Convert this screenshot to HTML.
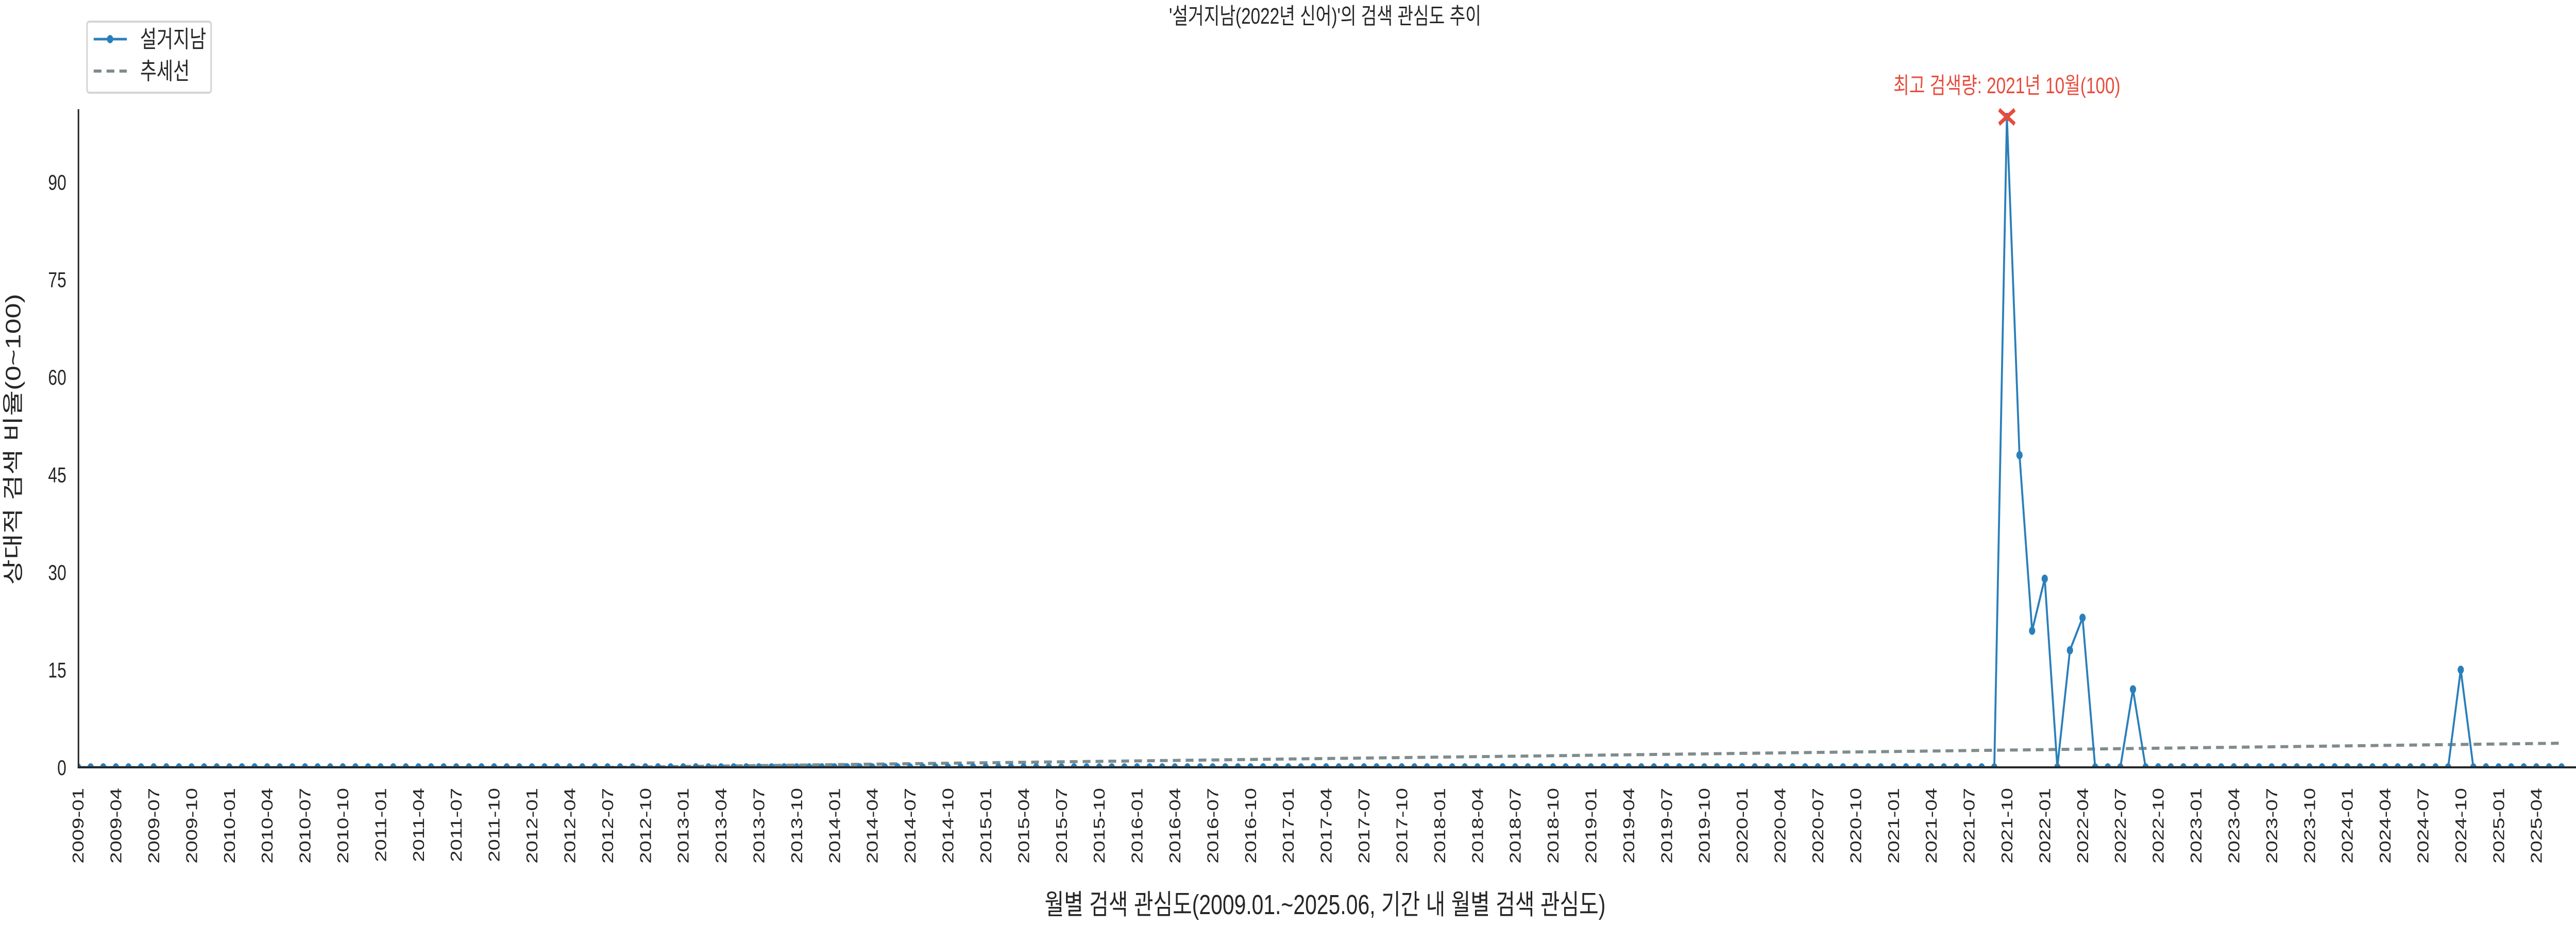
<!DOCTYPE html>
<html><head><meta charset="utf-8">
<style>
html,body{margin:0;padding:0;background:#fff;overflow:hidden;width:100%;height:100%;}
#chart{display:block;width:100vw;height:100vh;}
svg text{font-family:"Liberation Sans","Noto Sans CJK KR",sans-serif;fill:#262626;}
</style></head>
<body>
<svg id="chart" viewBox="0 0 6600 1800" preserveAspectRatio="none" xmlns="http://www.w3.org/2000/svg">
<defs><clipPath id="plotclip"><rect x="200" y="190" width="6400" height="1300"/></clipPath></defs>
<text x="3395" y="46" font-size="44" text-anchor="middle">'설거지남(2022년 신어)'의 검색 관심도 추이</text>
<g id="yticks"></g>
<g id="xticks"></g>
<g id="plot" clip-path="url(#plotclip)"></g>
<line x1="201" y1="212" x2="201" y2="1490" stroke="#262626" stroke-width="4"/>
<line x1="199" y1="1490" x2="6600" y2="1490" stroke="#262626" stroke-width="4"/>
<text transform="translate(52,853) rotate(-90)" font-size="54" text-anchor="middle">상대적 검색 비율(0~100)</text>
<text x="3395" y="1775" font-size="54" text-anchor="middle">월별 검색 관심도(2009.01.~2025.06, 기간 내 월별 검색 관심도)</text>
<g>
<rect x="223" y="42" width="318" height="138" rx="6" fill="#fff" stroke="#d5d5d5" stroke-width="4"/>
<g>
<line x1="240" y1="76" x2="325" y2="76" stroke="#2a7fba" stroke-width="5"/>
<circle cx="282" cy="76" r="8" fill="#2a7fba"/>
<text x="359" y="92" font-size="46">설거지남</text></g>
<g>
<line x1="240" y1="138" x2="325" y2="138" stroke="#7f8c8d" stroke-width="6" stroke-dasharray="20,13"/>
<text x="359" y="154" font-size="46">추세선</text></g>
</g>
<g id="annot"></g>
</svg>
<script>
// data: monthly values 2009-01 .. 2025-06 (198 months), nonzero months listed
const startYear = 2009;
const monthCount = 198;
const peakMonths = ["2021-10","2021-11","2021-12","2022-01","2022-03","2022-04","2022-08","2024-10"];
const peakValues = [100,48,21,29,18,23,12,15];
const yTicks = [0,15,30,45,60,75,90];

const NS="http://www.w3.org/2000/svg";
const X0=200, MW=32.3, Y0=1490, YS=12.63;
const xs=i=>X0+i*MW, ys=v=>Y0-v*YS;
function mk(t,a,p){const e=document.createElementNS(NS,t);for(const k in a)e.setAttribute(k,a[k]);p.appendChild(e);return e;}
const labels=[], vals=[];
for(let i=0;i<monthCount;i++){const y=startYear+Math.floor(i/12),m=i%12+1;labels.push(y+"-"+String(m).padStart(2,"0"));vals.push(0);}
peakMonths.forEach((m,k)=>{const i=labels.indexOf(m);if(i>=0)vals[i]=peakValues[k];});

const yt=document.getElementById('yticks');
yTicks.forEach(v=>{const t=mk('text',{x:170,y:ys(v)+15,'font-size':42,'text-anchor':'end'},yt);


t.textContent=v;});

const xt=document.getElementById('xticks');
labels.forEach((l,i)=>{if(i%3)return;const x=xs(i);
const t=mk('text',{transform:`translate(${x+14},1530) rotate(-90)`,'font-size':40,'text-anchor':'end'},xt);


t.textContent=l;});

const plot=document.getElementById('plot');
const n=vals.length;let sx=0,sy=0,sxy=0,sxx=0;
vals.forEach((v,i)=>{sx+=i;sy+=v;sxy+=i*v;sxx+=i*i;});
const b=(n*sxy-sx*sy)/(n*sxx-sx*sx), a=(sy-b*sx)/n;
const tr=mk('line',{x1:xs(0),y1:ys(a),x2:xs(n-1),y2:ys(a+b*(n-1)),stroke:'#7f8c8d','stroke-width':6,'stroke-dasharray':'20,13'},plot);


const pl=mk('polyline',{points:vals.map((v,i)=>xs(i)+","+ys(v)).join(" "),fill:'none',stroke:'#2a7fba','stroke-width':5,'stroke-linejoin':'round'},plot);


vals.forEach((v,i)=>{const c=mk('circle',{cx:xs(i),cy:ys(v),r:8,fill:'#2a7fba'},plot);

});

let pi=0;vals.forEach((v,i)=>{if(v>vals[pi])pi=i;});
const an=document.getElementById('annot');
const px=xs(pi), py=ys(vals[pi]);
const xm=mk('path',{d:`M${px-20},${py-14}L${px+20},${py+14}M${px-20},${py+14}L${px+20},${py-14}`,stroke:'#e74c3c','stroke-width':8},an);


const [py_,pm_]=labels[pi].split("-");
const at=mk('text',{x:px,y:181,'font-size':44,'text-anchor':'middle',style:'fill:#e74c3c'},an);


at.textContent=`최고 검색량: ${py_}년 ${parseInt(pm_)}월(${vals[pi]})`;
</script>
</body></html>
